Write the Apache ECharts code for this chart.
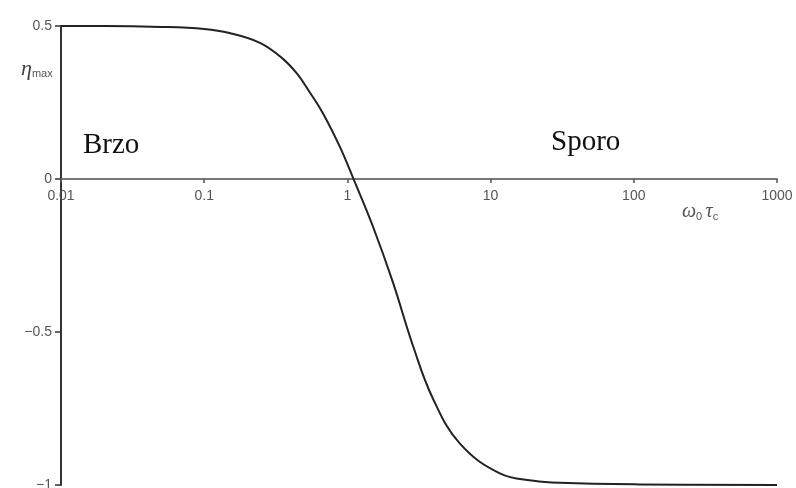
<!DOCTYPE html>
<html>
<head>
<meta charset="utf-8">
<script src="https://cdn.jsdelivr.net/npm/echarts@6/dist/echarts.min.js"></script>
<style>html,body{margin:0;padding:0;background:#fff}#c{width:796px;height:488px}</style>
</head>
<body>
<div id="c"></div>
<script>
// omega0 * tau_c values (log scale) and eta_max readings
const omegaTau = [0.01, 0.02, 0.05, 0.1, 0.15, 0.245, 0.35, 0.445, 0.55, 0.676, 0.888, 1.09, 1.51, 2.08, 2.87, 3.96, 6.11, 11.6, 20, 30.5, 110, 1000];
const etaMax   = [0.5, 0.5, 0.497, 0.49, 0.477, 0.445, 0.395, 0.344, 0.281, 0.214, 0.104, 0.006, -0.156, -0.338, -0.545, -0.718, -0.865, -0.962, -0.986, -0.993, -0.998, -1.0];
const xTicks = [0.01, 0.1, 1, 10, 100, 1000];
const yTicks = [-1, -0.5, 0, 0.5];
const regionLabels = ['Brzo', 'Sporo'];

const GRID_TOP = 26, GRID_BOTTOM = 3, H = 488;
const plotH = H - GRID_TOP - GRID_BOTTOM;
const zeroFromBottom = plotH * (0 - yTicks[0]) / (yTicks[yTicks.length - 1] - yTicks[0]);

const chart = echarts.init(document.getElementById('c'));
const fmtY = v => (v < 0 ? '\u2212' + Math.abs(v) : String(v));
chart.setOption({
  animation: false,
  backgroundColor: '#fff',
  grid: { left: 61, right: 19, top: GRID_TOP, bottom: GRID_BOTTOM, containLabel: false, outerBoundsMode: 'none' },
  xAxis: {
    type: 'log', logBase: 10, min: xTicks[0], max: xTicks[xTicks.length - 1],
    position: 'bottom', offset: -zeroFromBottom,
    axisLine: { onZero: false, lineStyle: { color: '#777', width: 2 } },
    axisTick: { show: true, inside: false, length: 4, lineStyle: { color: '#555', width: 1.5 } },
    minorTick: { show: false },
    axisLabel: { color: '#555', fontFamily: 'Liberation Sans, Arial', fontSize: 14, margin: 10,
      formatter: v => { const r = xTicks.find(t => Math.abs(Math.log10(t) - Math.log10(v)) < 1e-6); return r === undefined ? '' : String(r); } },
    splitLine: { show: false }
  },
  yAxis: {
    type: 'value', min: yTicks[0], max: yTicks[yTicks.length - 1], interval: 0.5,
    axisLine: { show: true, onZero: false, lineStyle: { color: '#333', width: 2 } },
    axisTick: { show: true, length: 6, lineStyle: { color: '#333', width: 1.5 } },
    axisLabel: { color: '#555', fontFamily: 'Liberation Sans, Arial', fontSize: 14, margin: 9, formatter: fmtY },
    splitLine: { show: false }
  },
  series: [{
    type: 'line', smooth: 0.4, symbol: 'none',
    data: omegaTau.map((x, i) => [x, etaMax[i]]),
    lineStyle: { color: '#222', width: 2 }
  }],
  graphic: [
    { type: 'text', left: 83, top: 131, style: { text: regionLabels[0], font: '29px "Liberation Serif", "Times New Roman", serif', fill: '#111' } },
    { type: 'text', left: 551, top: 128, style: { text: regionLabels[1], font: '29px "Liberation Serif", "Times New Roman", serif', fill: '#111' } },
    { type: 'text', left: 21, top: 58, style: {
        rich: { e: { font: 'italic 22px "Liberation Serif", serif', fill: '#444' }, s: { font: '11px "Liberation Sans", Arial', fill: '#555', padding: [10, 0, 0, 0] } },
        text: '{e|\u03b7}{s|max}' } },
    { type: 'text', left: 682, top: 202, style: {
        rich: { w: { font: 'italic 20px "Liberation Serif", serif', fill: '#555' }, s: { font: '11px "Liberation Sans", Arial', fill: '#555', padding: [10, 0, 0, 0] } },
        text: '{w|\u03c9}{s|0} {w|\u03c4}{s|c}' } }
  ]
});
</script>
</body>
</html>
